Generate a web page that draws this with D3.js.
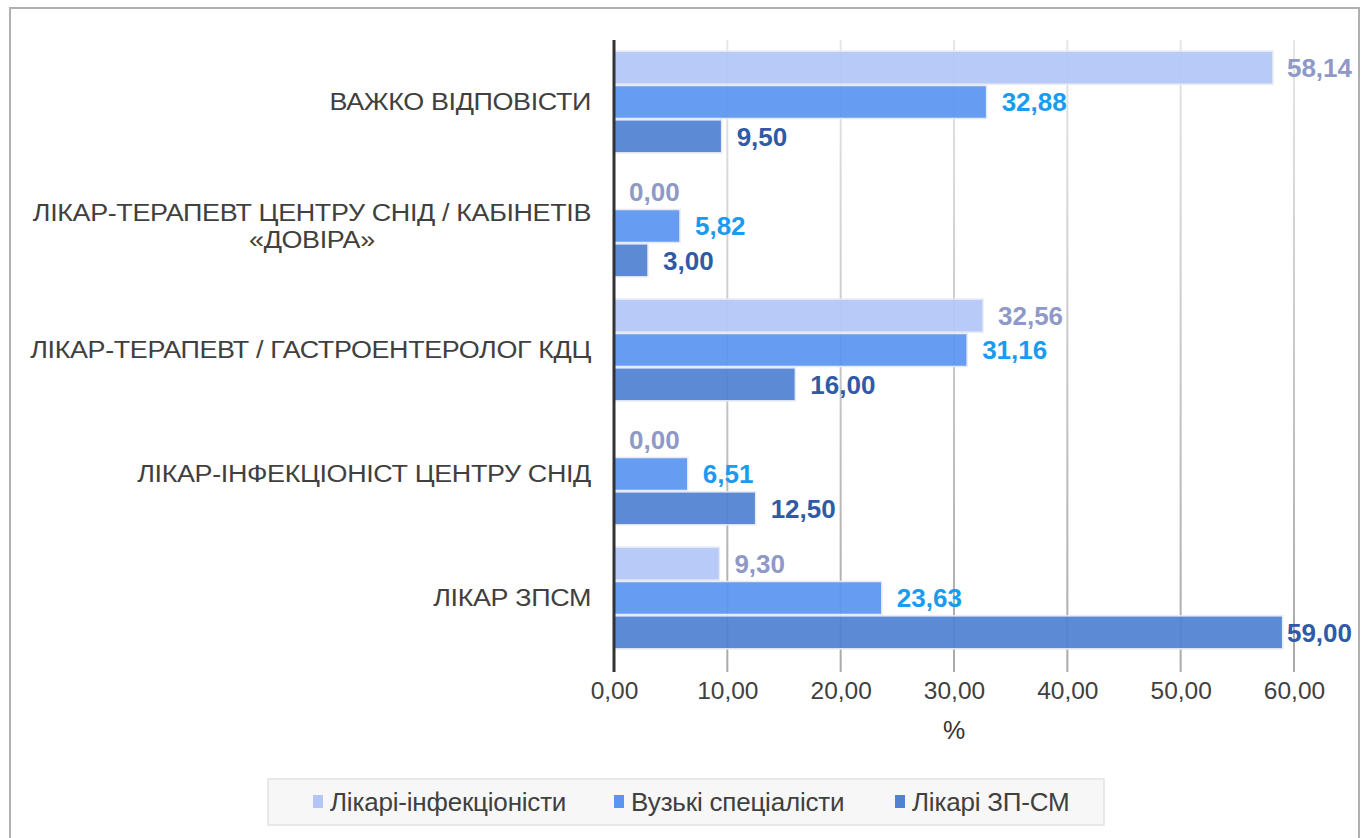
<!DOCTYPE html>
<html><head><meta charset="utf-8">
<script src="https://cdn.jsdelivr.net/npm/d3@7"></script>
<style>
html,body{margin:0;padding:0;background:#fff;}
text{font-family:"Liberation Sans",Arial,sans-serif;}
</style></head>
<body>
<svg id="chart" width="1367" height="838"></svg>
<script>
const categories = [
  ["ВАЖКО ВІДПОВІСТИ"],
  ["ЛІКАР-ТЕРАПЕВТ ЦЕНТРУ СНІД / КАБІНЕТІВ", "«ДОВІРА»"],
  ["ЛІКАР-ТЕРАПЕВТ / ГАСТРОЕНТЕРОЛОГ КДЦ"],
  ["ЛІКАР-ІНФЕКЦІОНІСТ ЦЕНТРУ СНІД"],
  ["ЛІКАР ЗПСМ"]
];
const seriesNames = ["Лікарі-інфекціоністи", "Вузькі спеціалісти", "Лікарі ЗП-СМ"];
const infectionists = [58.14, 0.00, 32.56, 0.00, 9.30];
const specialists = [32.88, 5.82, 31.16, 6.51, 23.63];
const gpDoctors = [9.50, 3.00, 16.00, 12.50, 59.00];
const xTicks = [0, 10, 20, 30, 40, 50, 60];
const axisTitle = "%";

const barColors = ["#b3c6f6", "#5b95f2", "#5181d1"];
const labelColors = ["#8f99c7", "#1a9bf0", "#2f5ba6"];
const seriesValues = [infectionists, specialists, gpDoctors];

const svg = d3.select("#chart");
svg.append("rect").attr("x", 10).attr("y", 8).attr("width", 1349).attr("height", 860)
  .attr("fill", "#fff").attr("stroke", "#b0b0b0").attr("stroke-width", 2);

const x = d3.scaleLinear().domain([0, 60]).range([614, 1294]);
const y = d3.scaleBand().domain(d3.range(categories.length)).range([40, 660])
  .paddingInner(0.18).paddingOuter(0.09);
const ySub = d3.scaleBand().domain(d3.range(3)).range([0, y.bandwidth()]).paddingInner(0.04);

const defs = svg.append("defs");
const grad = defs.append("linearGradient").attr("id", "gridGrad")
  .attr("gradientUnits", "userSpaceOnUse").attr("x1", 0).attr("y1", 40).attr("x2", 0).attr("y2", 672);
grad.append("stop").attr("offset", "0%").attr("stop-color", "#e6e6e6");
grad.append("stop").attr("offset", "100%").attr("stop-color", "#a9a9a9");

svg.append("g").selectAll("line").data(xTicks.slice(1)).join("line")
  .attr("x1", d => x(d)).attr("x2", d => x(d))
  .attr("y1", 40).attr("y2", 672)
  .attr("stroke", "url(#gridGrad)").attr("stroke-width", 2);

const groups = svg.append("g").selectAll("g").data(categories).join("g")
  .attr("transform", (d, i) => `translate(0,${y(i)})`);

seriesValues.forEach((vals, s) => {
  groups.append("rect")
    .attr("x", x(0))
    .attr("y", ySub(s))
    .attr("width", (d, i) => x(vals[i]) - x(0))
    .attr("height", ySub.bandwidth())
    .attr("fill", barColors[s])
    .attr("fill-opacity", 0.93)
    .attr("stroke", "#e6eaf3")
    .attr("stroke-width", 1.5);
});

const fmt = v => d3.format(".2f")(v).replace(".", ",");
seriesValues.forEach((vals, s) => {
  groups.append("text")
    .attr("y", ySub(s) + ySub.bandwidth() / 2)
    .attr("dy", "0.36em")
    .attr("font-size", 26).attr("font-weight", "bold")
    .attr("fill", labelColors[s])
    .text((d, i) => fmt(vals[i]))
    .each(function (d, i) {
      const w = this.getComputedTextLength();
      let xx = x(vals[i]) + 15;
      if (xx + w > 1352) xx = 1352 - w;
      d3.select(this).attr("x", xx);
    });
});

// category labels (horizontally stretched like the original)
const sx = 1.17;
categories.forEach((lines, i) => {
  const cy = y(i) + y.bandwidth() / 2;
  const g = svg.append("g").attr("transform", `translate(591,${cy}) scale(${sx},1)`);
  if (lines.length === 1) {
    g.append("text").attr("x", 0).attr("y", 0).attr("dy", "0.36em").attr("text-anchor", "end")
      .attr("font-size", 23).attr("fill", "#404040").attr("letter-spacing", "-0.3px").text(lines[0]);
  } else {
    const t1 = g.append("text").attr("x", 0).attr("y", -13).attr("dy", "0.36em").attr("text-anchor", "end")
      .attr("font-size", 23).attr("fill", "#404040").attr("letter-spacing", "-0.3px").text(lines[0]);
    const w1 = t1.node().getComputedTextLength();
    g.append("text").attr("x", -w1 / 2).attr("y", 14).attr("dy", "0.36em").attr("text-anchor", "middle")
      .attr("font-size", 23).attr("fill", "#404040").attr("letter-spacing", "-0.3px").text(lines[1]);
  }
});

const xAxis = d3.axisBottom(x).tickValues(xTicks).tickSize(0).tickPadding(0)
  .tickFormat(d => fmt(d));
const ax = svg.append("g").attr("transform", "translate(0,690)").call(xAxis);
ax.select(".domain").remove();
ax.selectAll("text").attr("font-size", 24.5).attr("fill", "#404040")
  .attr("font-family", "Liberation Sans, Arial, sans-serif").attr("dy", "0.36em");

svg.append("line").attr("x1", x(0)).attr("x2", x(0)).attr("y1", 40).attr("y2", 672)
  .attr("stroke", "#333").attr("stroke-width", 3);

svg.append("text").attr("x", (x(0) + x(60)) / 2).attr("y", 730).attr("dy", "0.36em")
  .attr("text-anchor", "middle").attr("font-size", 25).attr("fill", "#333").text(axisTitle);

svg.append("rect").attr("x", 268).attr("y", 779).attr("width", 836).attr("height", 46)
  .attr("fill", "#f7f7f7").attr("stroke", "#e2e2e2").attr("stroke-width", 1.5);
const legendX = [313, 614, 895];
const leg = svg.append("g").selectAll("g").data(seriesNames).join("g")
  .attr("transform", (d, i) => `translate(${legendX[i]},802)`);
leg.append("rect").attr("x", 0).attr("y", -7).attr("width", 10).attr("height", 13)
  .attr("fill", (d, i) => barColors[i]);
leg.append("text").attr("x", 17).attr("dy", "0.36em").attr("font-size", 26)
  .attr("fill", "#404040").attr("letter-spacing", "-0.2px").text(d => d);
</script>
</body></html>
